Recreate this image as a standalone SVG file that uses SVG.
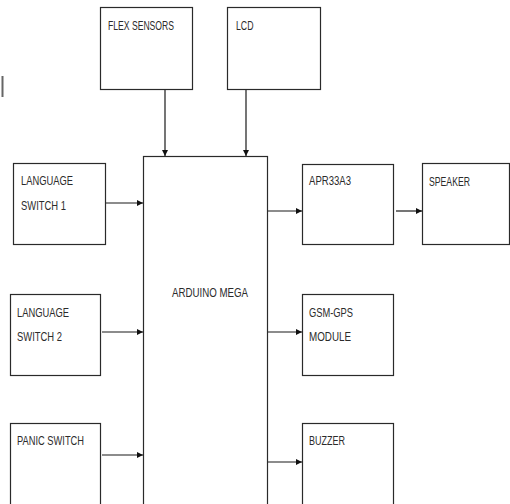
<svg xmlns="http://www.w3.org/2000/svg" width="510" height="504" viewBox="0 0 510 504">
<defs>
<style>
.box{fill:#fff;stroke:#2a2a2a;stroke-width:1.2}
.lbl{font-family:"Liberation Sans",Arial,sans-serif;font-size:13.5px;fill:#2b2b2b}
.con{stroke:#1a1a1a;stroke-width:1.2;fill:none;marker-end:url(#ah)}
</style>
<marker id="ah" viewBox="0 0 6 6" refX="6" refY="3" markerWidth="6" markerHeight="6" markerUnits="userSpaceOnUse" orient="auto">
<path d="M0,0 L6,3 L0,6 Z" fill="#111"/>
</marker>
</defs>
<rect width="510" height="504" fill="#fff"/>
<rect x="1.5" y="76" width="2" height="21" fill="#666"/>
<g id="flex"><rect class="box" x="100.5" y="7.5" width="92" height="82"/><text class="lbl" x="108" y="30" textLength="66" lengthAdjust="spacingAndGlyphs">FLEX SENSORS</text></g>
<g id="lcd"><rect class="box" x="227.5" y="7.5" width="93" height="82"/><text class="lbl" x="236" y="29.5" textLength="17.5" lengthAdjust="spacingAndGlyphs">LCD</text></g>
<g id="ls1"><rect class="box" x="13.5" y="163.5" width="92" height="81"/><text class="lbl" x="21" y="185" textLength="52" lengthAdjust="spacingAndGlyphs">LANGUAGE</text><text class="lbl" x="21" y="210" textLength="45" lengthAdjust="spacingAndGlyphs">SWITCH 1</text></g>
<g id="ls2"><rect class="box" x="10.5" y="294.5" width="90" height="81"/><text class="lbl" x="17" y="317" textLength="52" lengthAdjust="spacingAndGlyphs">LANGUAGE</text><text class="lbl" x="17" y="341" textLength="45" lengthAdjust="spacingAndGlyphs">SWITCH 2</text></g>
<g id="panic"><rect class="box" x="10.5" y="423.5" width="90" height="100"/><text class="lbl" x="17" y="445" textLength="67" lengthAdjust="spacingAndGlyphs">PANIC SWITCH</text></g>
<g id="arduino"><rect class="box" x="143.5" y="156.5" width="124" height="360"/><text class="lbl" x="172" y="297" textLength="76" lengthAdjust="spacingAndGlyphs">ARDUINO MEGA</text></g>
<g id="apr"><rect class="box" x="302.5" y="164.5" width="91" height="80"/><text class="lbl" x="309" y="185" textLength="42" lengthAdjust="spacingAndGlyphs">APR33A3</text></g>
<g id="speaker"><rect class="box" x="422.5" y="163.5" width="87" height="81"/><text class="lbl" x="429" y="186" textLength="41" lengthAdjust="spacingAndGlyphs">SPEAKER</text></g>
<g id="gsm"><rect class="box" x="302.5" y="294.5" width="91" height="81"/><text class="lbl" x="309" y="317" textLength="44" lengthAdjust="spacingAndGlyphs">GSM-GPS</text><text class="lbl" x="309" y="341" textLength="42" lengthAdjust="spacingAndGlyphs">MODULE</text></g>
<g id="buzzer"><rect class="box" x="302.5" y="423.5" width="91" height="100"/><text class="lbl" x="309" y="445" textLength="36" lengthAdjust="spacingAndGlyphs">BUZZER</text></g>
<g id="connectors">
<line class="con" x1="165" y1="90" x2="165" y2="156"/>
<line class="con" x1="246" y1="90" x2="246" y2="156"/>
<line class="con" x1="106" y1="203" x2="143" y2="203"/>
<line class="con" x1="102" y1="332" x2="143" y2="332"/>
<line class="con" x1="102" y1="455" x2="143" y2="455"/>
<line class="con" x1="268" y1="211" x2="302" y2="211"/>
<line class="con" x1="396" y1="211" x2="422" y2="211"/>
<line class="con" x1="268" y1="332" x2="302" y2="332"/>
<line class="con" x1="268" y1="462" x2="302" y2="462"/>
</g>
</svg>
